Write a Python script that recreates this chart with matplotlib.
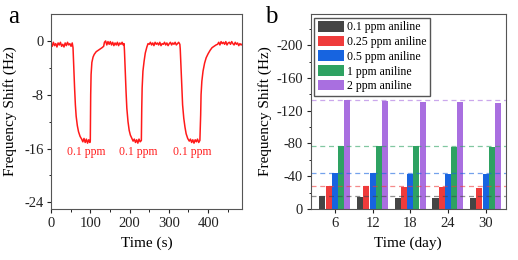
import numpy as np
import matplotlib
matplotlib.use("Agg")
import matplotlib.pyplot as plt

plt.rcParams.update({
    "font.family": ["Liberation Serif", "DejaVu Serif"],
    "font.size": 10,
    "axes.unicode_minus": False,
    "axes.linewidth": 0.8,
    "axes.edgecolor": "#555555",
})

# ── Panel a: frequency response to 0.1 ppm, three cycles ─────────────────────
t_a = [0, 3, 6, 9, 12, 15, 18, 21, 24, 27, 30, 33, 36, 39, 42, 45, 48, 51, 54,
       56, 58, 60, 62, 64, 67, 70, 74, 78, 81, 84, 87, 90, 93, 96, 99, 100,
       101, 102, 104, 107, 110, 115, 120, 125, 130, 134, 136, 139, 142, 145,
       148, 151, 154, 157, 160, 163, 166, 169, 172, 175, 178, 181, 184, 186,
       187, 189, 191, 193, 196, 199, 202, 206, 209, 212, 215, 218, 221, 224,
       227, 230, 231, 232, 234, 237, 240, 244, 247, 250, 253, 256, 259, 262,
       265, 268, 271, 274, 277, 280, 283, 286, 289, 292, 295, 298, 301, 304,
       307, 310, 313, 316, 319, 322, 325, 328,
       329, 331, 333, 335, 338, 341, 344, 348, 352, 355, 358, 361, 364, 367,
       370, 373, 376, 379, 381, 382, 384, 387, 391, 395, 400, 405, 410, 415,
       420, 424, 427, 430, 433, 436, 439, 442, 445, 448, 451, 454, 457, 460,
       463, 466, 469, 472, 475, 478, 481, 484, 486]
f_a = [-0.3, -0.8, -0.2, -0.7, -0.4, -0.9, -0.3, -0.6, -0.2, -0.8, -0.5, -0.9,
       -0.3, -0.7, -0.2, -0.6, -0.4, -0.8, -0.3,
       -1.0, -4.0, -7.0, -9.5, -11.2, -12.6, -13.5, -14.2, -14.6, -15.0, -14.5,
       -15.1, -14.6, -15.2, -14.7, -15.1, -14.8,
       -8.0, -5.0, -3.2, -2.4, -2.0, -1.6, -1.4, -1.2, -1.0, -0.8, -0.2, 0.0,
       -0.6, -0.1, -0.5, -0.1, -0.6, -0.2, -0.7, -0.3, -0.6, -0.2, -0.7, -0.3,
       -0.5, -0.2, -0.6, -0.4,
       -1.5, -4.5, -7.5, -10.0, -12.0, -13.3, -14.0, -14.5, -14.9, -14.6,
       -15.1, -14.7, -15.2, -14.6, -15.0, -14.8,
       -10.0, -7.0, -4.5, -3.0, -1.8, -0.9, -0.4, -0.5, -0.2, -0.6, -0.3, -0.7,
       -0.2, -0.5, -0.3, -0.6, -0.2, -0.7, -0.4, -0.5, -0.2, -0.6, -0.3, -0.7,
       -0.4, -0.2, -0.6, -0.3, -0.5, -0.2, -0.6, -0.4, -0.2, -0.5,
       -1.2, -4.0, -7.0, -9.5, -11.5, -12.8, -13.8, -14.5, -14.9, -14.6, -15.1,
       -14.7, -15.2, -14.7, -15.0, -14.6, -15.1, -14.8,
       -11.0, -8.0, -6.0, -4.5, -3.3, -2.5, -1.9, -1.4, -1.0, -0.8, -0.6, -0.5,
       -0.2, -0.6, -0.1, -0.4, -0.2, -0.5, -0.1, -0.6, -0.3, -0.2, -0.5, -0.1,
       -0.4, -0.6, -0.2, -0.5, -0.3, -0.7, -0.4, -0.6, -0.5]
lab_t = [89, 222, 360]
lab_txt = "0.1 ppm"

# ── Panel b: stability over 30 days ──────────────────────────────────────────
dias = ["6", "12", "18", "24", "30"]
conc = ["0.1 ppm aniline", "0.25 ppm aniline", "0.5 ppm aniline",
        "1 ppm aniline", "2 ppm aniline"]
shift_b = [
    [-15.5, -14.3, -14.0, -13.0, -13.0],
    [-28.0, -28.0, -27.0, -26.5, -25.7],
    [-44.0, -44.0, -43.0, -43.0, -42.4],
    [-77.0, -76.5, -76.5, -76.0, -75.5],
    [-133.0, -132.0, -131.0, -130.6, -129.0],
]
colores = ["#454545", "#ef3b3b", "#1764e0", "#2ea262", "#a96fe0"]

fig = plt.figure(figsize=(5.18, 2.6), dpi=100)
ax1 = fig.add_axes([0.0985, 0.196, 0.3685, 0.75])
ax2 = fig.add_axes([0.600, 0.196, 0.376, 0.75])

# panel a
ax1.plot(t_a, f_a, color="#ff1a1a", lw=1.1)
for tx in lab_t:
    ax1.text(tx, -16.5, lab_txt, color="#ff2020", fontsize=8.5,
             ha="center", va="center")
ax1.set_xlim(0, 486)
ax1.set_ylim(-25, 4)
ax1.set_xticks([0, 100, 200, 300, 400])
ax1.set_yticks([0, -8, -16, -24])
ax1.set_xticks([50, 150, 250, 350, 450], minor=True)
ax1.set_yticks([-4, -12, -20], minor=True)
ax1.set_xlabel("Time (s)", fontsize=11, labelpad=5)
ax1.set_ylabel("Frequency Shift (Hz)", fontsize=11, labelpad=5)
fig.text(0.026, 0.935, "a", fontsize=18, va="center", ha="center")

# panel b
x = np.arange(len(dias))
w = 0.16
for i, (lab, vals, c) in enumerate(zip(conc, shift_b, colores)):
    ax2.bar(x + (i - 2) * 0.165, vals, w, color=c, label=lab)
    ax2.axhline(vals[0], color=c, ls=(0, (4, 3)), lw=0.9, alpha=0.6)
ax2.set_xlim(-0.64, 4.53)
ax2.set_ylim(0, -238)
ax2.set_xticks(x)
ax2.set_xticklabels(dias)
ax2.set_yticks([0, -40, -80, -120, -160, -200])
ax2.set_yticks([-20, -60, -100, -140, -180, -220], minor=True)
ax2.set_xlabel("Time (day)", fontsize=11, labelpad=5)
ax2.set_ylabel("Frequency Shift (Hz)", fontsize=11, labelpad=3)
ax2.legend(loc="upper left", fontsize=8.5, frameon=True, fancybox=False,
           edgecolor="#555555", framealpha=1, handlelength=2.2,
           handleheight=1.0, labelspacing=0.2, borderpad=0.3,
           handletextpad=0.3, borderaxespad=0.3)
fig.text(0.524, 0.935, "b", fontsize=18, va="center", ha="center")

for ax in (ax1, ax2):
    ax.tick_params(direction="out", length=3, width=0.8, labelsize=10.5,
                   colors="#222222", pad=2.5)
    ax.tick_params(which="minor", direction="out", length=1.8, width=0.6)

fig.savefig("out.png", dpi=100)
